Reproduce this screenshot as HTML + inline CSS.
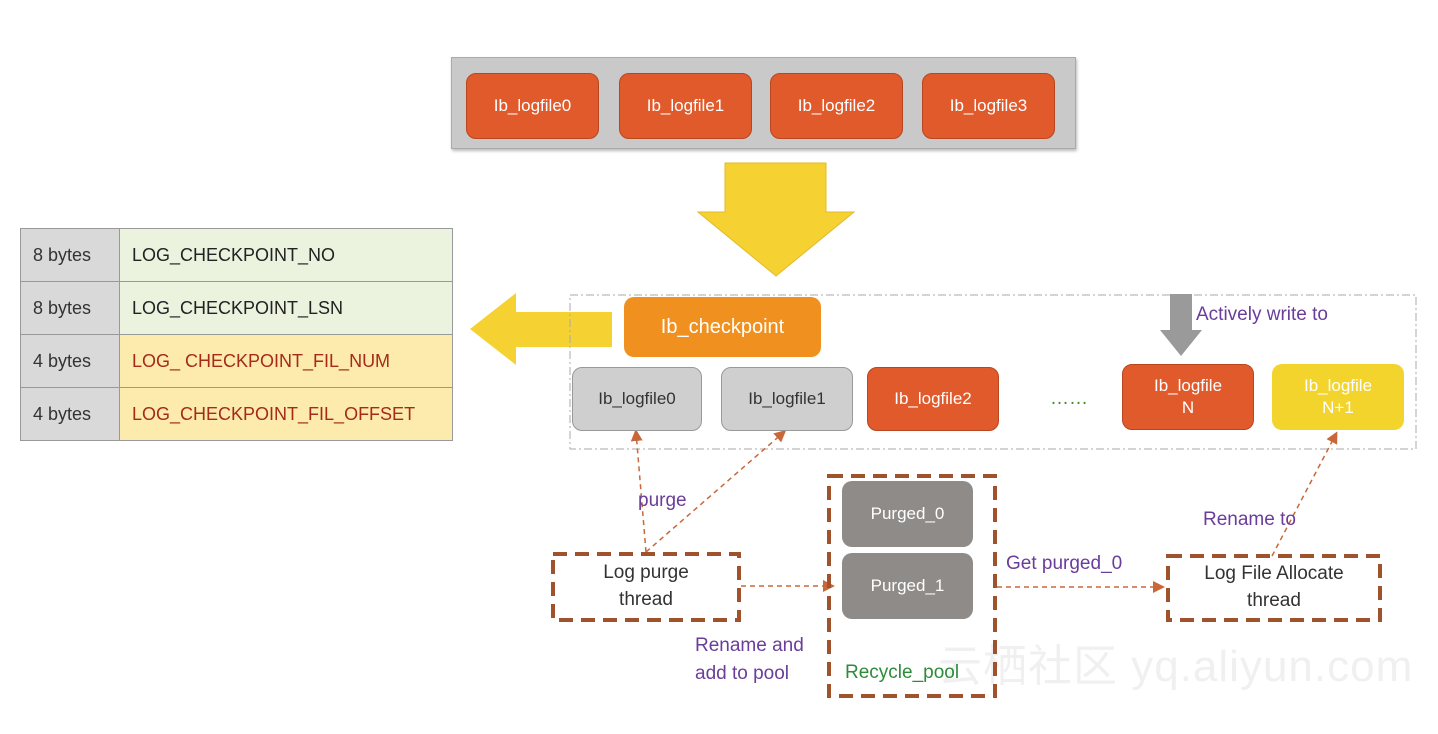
<!DOCTYPE html>
<html><head><meta charset="utf-8"><style>
body{margin:0;width:1438px;height:734px;background:#fff;position:relative;overflow:hidden;font-family:"Liberation Sans",sans-serif}
.a{position:absolute;box-sizing:border-box;display:flex;align-items:center;justify-content:center;text-align:center}
.or{background:#e05a2b;color:#fff;border-radius:10px;border:1px solid #b9461e;font-size:17px}
.gr{background:#cfcfcf;color:#333;border-radius:10px;border:1px solid #999;font-size:17px}
.pg{background:#8f8b89;color:#fff;border-radius:10px;font-size:17px}
.t{position:absolute;font-size:19px}
.pu{color:#6a3d9a}
table{position:absolute;left:20px;top:228px;border-collapse:collapse;font-size:18px}
td{border:1px solid #999;padding:0 12px;height:52px}
td.c1{background:#d9d9d9;width:74px;color:#333}
td.c2{width:308px}
</style></head><body>
<div class="t" style="left:938px;top:630px;font-size:44px;color:#f0f0f0;letter-spacing:1px">云栖社区 yq.aliyun.com</div>
<div class="a" style="left:451px;top:57px;width:625px;height:92px;background:#c9c9c9;border:1px solid #aaa;box-shadow:1px 2px 3px #bbb"></div>
<div class="a or" style="left:466px;top:73px;width:133px;height:66px">Ib_logfile0</div>
<div class="a or" style="left:619px;top:73px;width:133px;height:66px">Ib_logfile1</div>
<div class="a or" style="left:770px;top:73px;width:133px;height:66px">Ib_logfile2</div>
<div class="a or" style="left:922px;top:73px;width:133px;height:66px">Ib_logfile3</div>
<svg style="position:absolute;left:0;top:0" width="1438" height="734">
<defs><marker id="m" markerWidth="8" markerHeight="8" refX="6" refY="4" orient="auto"><path d="M0,0L8,4L0,8z" fill="#c8683a"/></marker></defs>
<polygon points="725,163 826,163 826,212 854,212 776,276 698,212 725,212" fill="#f5d232" stroke="#e2b92a"/>
<polygon points="612,312 516,312 516,293 470,329 516,365 516,347 612,347" fill="#f5d232"/>
<rect x="570" y="295" width="846" height="154" fill="none" stroke="#aaa" stroke-dasharray="8,3,2,3"/>
<polygon points="1170,294 1192,294 1192,330 1202,330 1181,356 1160,330 1170,330" fill="#9a9a9a"/>
<g stroke="#c8683a" stroke-width="1.5" stroke-dasharray="5,4" fill="none">
<line x1="646" y1="552" x2="636" y2="432" marker-end="url(#m)"/>
<line x1="646" y1="552" x2="784" y2="432" marker-end="url(#m)"/>
<line x1="1272" y1="556" x2="1336" y2="434" marker-end="url(#m)"/>
<line x1="741" y1="586" x2="832" y2="586" marker-end="url(#m)"/>
<line x1="997" y1="587" x2="1162" y2="587" marker-end="url(#m)"/>
</g>
<g stroke="#a0522d" stroke-width="4" stroke-dasharray="14,8" fill="none">
<rect x="553" y="554" width="186" height="66"/>
<rect x="829" y="476" width="166" height="220"/>
<rect x="1168" y="556" width="212" height="64"/>
</g>
</svg>
<table>
<tr><td class="c1">8 bytes</td><td class="c2" style="background:#ebf3df;color:#222">LOG_CHECKPOINT_NO</td></tr>
<tr><td class="c1">8 bytes</td><td class="c2" style="background:#ebf3df;color:#222">LOG_CHECKPOINT_LSN</td></tr>
<tr><td class="c1">4 bytes</td><td class="c2" style="background:#fcebac;color:#a52a1a">LOG_ CHECKPOINT_FIL_NUM</td></tr>
<tr><td class="c1">4 bytes</td><td class="c2" style="background:#fcebac;color:#a52a1a">LOG_CHECKPOINT_FIL_OFFSET</td></tr>
</table>
<div class="a" style="left:624px;top:297px;width:197px;height:60px;background:#f0901e;color:#fff;border-radius:10px;font-size:20px">Ib_checkpoint</div>
<div class="a gr" style="left:572px;top:367px;width:130px;height:64px">Ib_logfile0</div>
<div class="a gr" style="left:721px;top:367px;width:132px;height:64px">Ib_logfile1</div>
<div class="a or" style="left:867px;top:367px;width:132px;height:64px">Ib_logfile2</div>
<div class="t" style="left:1050px;top:388px;color:#4a8a2a">……</div>
<div class="a or" style="left:1122px;top:364px;width:132px;height:66px;line-height:1.3">Ib_logfile<br>N</div>
<div class="a" style="left:1272px;top:364px;width:132px;height:66px;background:#f3d42c;color:#fff;border-radius:10px;font-size:17px;line-height:1.3">Ib_logfile<br>N+1</div>
<div class="t pu" style="left:1196px;top:304px">Actively write to</div>
<div class="t pu" style="left:638px;top:490px">purge</div>
<div class="a pg" style="left:842px;top:481px;width:131px;height:66px">Purged_0</div>
<div class="a pg" style="left:842px;top:553px;width:131px;height:66px">Purged_1</div>
<div class="t pu" style="left:1203px;top:509px">Rename to</div>
<div class="a" style="left:555px;top:556px;width:182px;height:62px;font-size:19px;color:#333;line-height:1.4">Log purge<br>thread</div>
<div class="t pu" style="left:1006px;top:553px">Get purged_0</div>
<div class="a" style="left:1170px;top:558px;width:208px;height:60px;font-size:19px;color:#333;line-height:1.4">Log File Allocate<br>thread</div>
<div class="t pu" style="left:695px;top:632px;line-height:1.45;text-align:left">Rename and<br>add to pool</div>
<div class="t" style="left:845px;top:662px;color:#2e8b3a">Recycle_pool</div>
</body></html>
